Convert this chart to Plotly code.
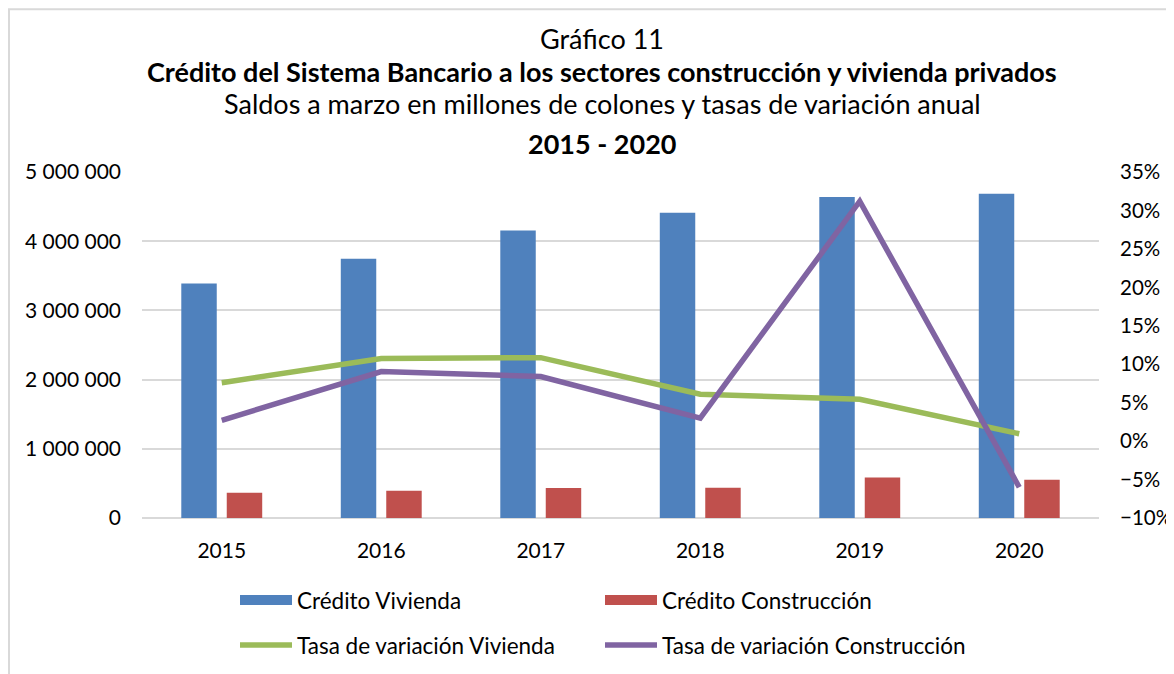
import plotly.graph_objects as go

# Datos
anios = ['2015', '2016', '2017', '2018', '2019', '2020']
credito_vivienda = [3390000, 3745000, 4155000, 4410000, 4640000, 4685000]
credito_construccion = [366000, 395000, 434000, 438000, 586000, 552000]
tasa_vivienda = [7.6, 10.75, 10.85, 6.1, 5.45, 0.95]
tasa_construccion = [2.7, 9.05, 8.4, 3.0, 31.2, -6.0]

azul = '#4F81BD'
rojo = '#C0504D'
verde = '#9BBB59'
morado = '#8064A2'
gris = '#D9D9D9'
fuente = 'Lato'

# área del gráfico en píxeles de pantalla
izq, ancho = 142, 957
abajo, alto = 518.5, 346.5


def px_x(x):
    return (x - izq) / ancho


def px_y(y):
    return (abajo - y) / alto


fig = go.Figure()

fig.add_trace(go.Bar(x=anios, y=credito_vivienda, name='Crédito Vivienda',
                     marker=dict(color=azul, line=dict(width=0)), showlegend=False))
fig.add_trace(go.Bar(x=anios, y=credito_construccion, name='Crédito Construcción',
                     marker=dict(color=rojo, line=dict(width=0)), showlegend=False))

# entradas de leyenda con muestra rectangular (estilo Excel)
fig.add_trace(go.Scatter(x=[None], y=[None], mode='lines', name='Crédito Vivienda',
                         line=dict(color=azul, width=10), legend='legend'))
fig.add_trace(go.Scatter(x=[None], y=[None], mode='lines', name='Crédito Construcción',
                         line=dict(color=rojo, width=10), legend='legend'))

fig.add_trace(go.Scatter(x=anios, y=tasa_vivienda, mode='lines', name='Tasa de variación Vivienda',
                         line=dict(color=verde, width=5.5), yaxis='y2', legend='legend2'))
fig.add_trace(go.Scatter(x=anios, y=tasa_construccion, mode='lines', name='Tasa de variación Construcción',
                         line=dict(color=morado, width=5.5), yaxis='y2', legend='legend2'))

titulos = [
    ('Gráfico 11', 38),
    ('<b>Crédito del Sistema Bancario a los sectores construcción y vivienda privados</b>', 71),
    ('Saldos a marzo en millones de colones y tasas de variación anual', 103),
    ('<b>2015 - 2020</b>', 143),
]
for texto, ypx in titulos:
    fig.add_annotation(text=texto, xref='paper', yref='paper',
                       x=px_x(602), y=px_y(ypx),
                       xanchor='center', yanchor='middle', showarrow=False,
                       font=dict(family=fuente, size=27, color='black'))

leyenda = dict(orientation='h', entrywidth=298, entrywidthmode='pixels', itemwidth=52,
               font=dict(family=fuente, size=22.5, color='black'),
               bgcolor='rgba(0,0,0,0)', xanchor='left', yanchor='middle', x=px_x(235),
               itemclick=False, itemdoubleclick=False)

fig.update_layout(
    width=1174, height=674,
    margin=dict(l=izq - 8, r=1174 - (izq - 8) - ancho, t=172 - 8, b=674 - (abajo - 8)),
    paper_bgcolor='white', plot_bgcolor='white',
    separators=', ',
    barmode='group', bargap=0.43, bargroupgap=0.22,
    font=dict(family=fuente, size=21, color='black'),
    legend=dict(leyenda, y=px_y(601)),
    legend2=dict(leyenda, y=px_y(646)),
    xaxis=dict(showgrid=False, showline=False, ticks='', ticklabelstandoff=18,
               automargin=False, tickfont=dict(family=fuente, size=21)),
    yaxis=dict(range=[0, 5000000], dtick=1000000, tickformat=',d',
               showgrid=True, gridcolor=gris, gridwidth=2,
               zeroline=True, zerolinecolor=gris, zerolinewidth=2, automargin=False,
               ticks='', ticklabelstandoff=20, tickfont=dict(family=fuente, size=21)),
    yaxis2=dict(range=[-10, 35], dtick=5, ticksuffix='%', overlaying='y', side='right',
                showgrid=False, zeroline=False, ticks='', ticklabelstandoff=20,
                automargin=False, tickfont=dict(family=fuente, size=20.5)),
    shapes=[dict(type='rect', xref='paper', yref='paper',
                 x0=px_x(9), x1=px_x(1200), y0=px_y(700), y1=px_y(9),
                 line=dict(color=gris, width=2), layer='below')],
)

fig.write_html('out.html')
